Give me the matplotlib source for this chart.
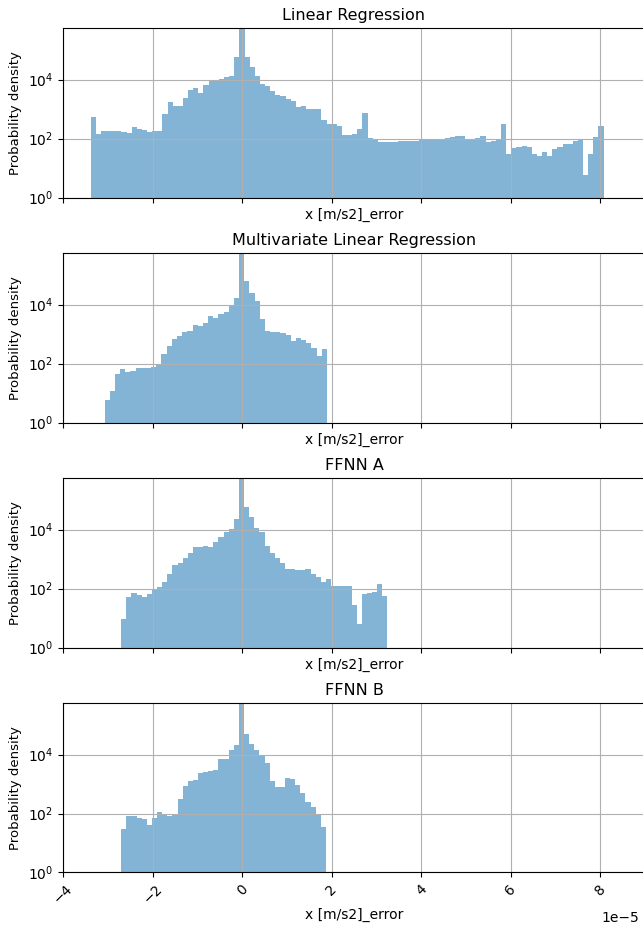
import numpy as np
import matplotlib
matplotlib.use("Agg")
import matplotlib.pyplot as plt
from matplotlib.ticker import NullLocator

# ==========================================================
# Error histograms (density per bin, x in units of 1e-5 m/s2)
# ==========================================================

MODEL_NAMES = [
    "Linear Regression",
    "Multivariate Linear Regression",
    "FFNN A",
    "FFNN B",
]

# bin range (lower edge, upper edge) for each model
LR_RANGE = (-3.383, 8.075)
MLR_RANGE = (-3.07, 1.895)
FFNN_A_RANGE = (-2.699, 3.245)
FFNN_B_RANGE = (-2.699, 1.873)

LR_DENSITY = [
    540, 144, 187, 187, 187, 183, 172, 156, 242, 208,
    190, 163, 177, 177, 670, 1700, 1320, 1320, 2450, 4470,
    5370, 3630, 6600, 9500, 8900, 10500, 12600, 13700, 58600, 9e5,
    56000, 27600, 13700, 7100, 6100, 4150, 3030, 2740, 2200, 1850,
    1180, 1250, 990, 990, 990, 430, 322, 322, 270, 130,
    133, 144, 208, 720, 108, 100, 77, 77, 76, 76,
    81, 81, 81, 81, 86, 86, 92, 86, 95, 105,
    114, 123, 123, 97, 97, 105, 123, 75, 83, 92,
    300, 29, 47, 51, 54, 53, 31, 25, 34, 25,
    46, 51, 66, 66, 83, 92, 5.7, 31, 111, 275,
]

MLR_DENSITY = [
    5.9, 11.3, 45, 63, 51, 54, 70, 70, 72, 79,
    98, 208, 407, 686, 850, 1210, 1290, 2100, 1900, 2450,
    4000, 3540, 4800, 5640, 9700, 17300, 9e5, 65000, 25500, 13300,
    3260, 1290, 1210, 1150, 1070, 910, 600, 720, 635, 490,
    340, 182, 320,
]

FFNN_A_DENSITY = [
    9.4, 51, 70, 61, 52, 66, 98, 114, 172, 305,
    620, 760, 1120, 1590, 2510, 2510, 2740, 2580, 3900, 5370,
    8100, 10500, 23600, 9e5, 56000, 27000, 11700, 8100, 2870, 1660,
    1120, 720, 465, 465, 430, 430, 465, 322, 250, 168,
    213, 123, 126, 126, 126, 27, 6.2, 66, 71, 77,
    137, 58,
]

FFNN_B_DENSITY = [
    30, 83, 83, 70, 63, 40, 68, 111, 87, 81,
    100, 315, 870, 1250, 1390, 2330, 2650, 2740, 2960, 6900,
    6900, 13700, 21300, 9e5, 50000, 23000, 13700, 8900, 5100, 1290,
    820, 820, 1590, 1450, 910, 500, 255, 160, 95, 35,
]

RANGES = [LR_RANGE, MLR_RANGE, FFNN_A_RANGE, FFNN_B_RANGE]
DENSITIES = [LR_DENSITY, MLR_DENSITY, FFNN_A_DENSITY, FFNN_B_DENSITY]

SCALE = 1e-5

# ==========================================================
# Plot
# ==========================================================

fig, axes = plt.subplots(4, 1, sharex=True, figsize=(6.43, 9.26), dpi=100)
fig.subplots_adjust(
    left=63 / 643,
    right=645 / 643,
    top=1 - 28 / 926,
    bottom=1 - 872.5 / 926,
    hspace=0.327,
)

for ax, name, rng, dens in zip(axes, MODEL_NAMES, RANGES, DENSITIES):
    dens = np.asarray(dens, dtype=float)
    edges = np.linspace(rng[0], rng[1], len(dens) + 1) * SCALE
    centers = 0.5 * (edges[:-1] + edges[1:])

    ax.hist(centers, bins=edges, weights=dens, alpha=0.55)

    ax.set_yscale("log")
    ax.set_ylim(1, 5.6e5)
    ax.set_yticks([1, 1e2, 1e4])
    ax.yaxis.set_minor_locator(NullLocator())

    ax.set_title(name, fontsize=11.5)
    ax.set_xlabel("x [m/s2]_error")
    ax.set_ylabel("Probability density", fontsize=9.5)
    ax.grid(True)

axes[-1].set_xlim(-4 * SCALE, 9 * SCALE)
axes[-1].set_xticks(np.arange(-4, 9, 2) * SCALE)
plt.setp(axes[-1].get_xticklabels(), rotation=45)
axes[-1].xaxis.labelpad = 1
# keep the "1e-5" multiplier inside the figure
axes[-1].xaxis.get_offset_text().set_x(0.99)

plt.savefig("out.png", dpi=100)
